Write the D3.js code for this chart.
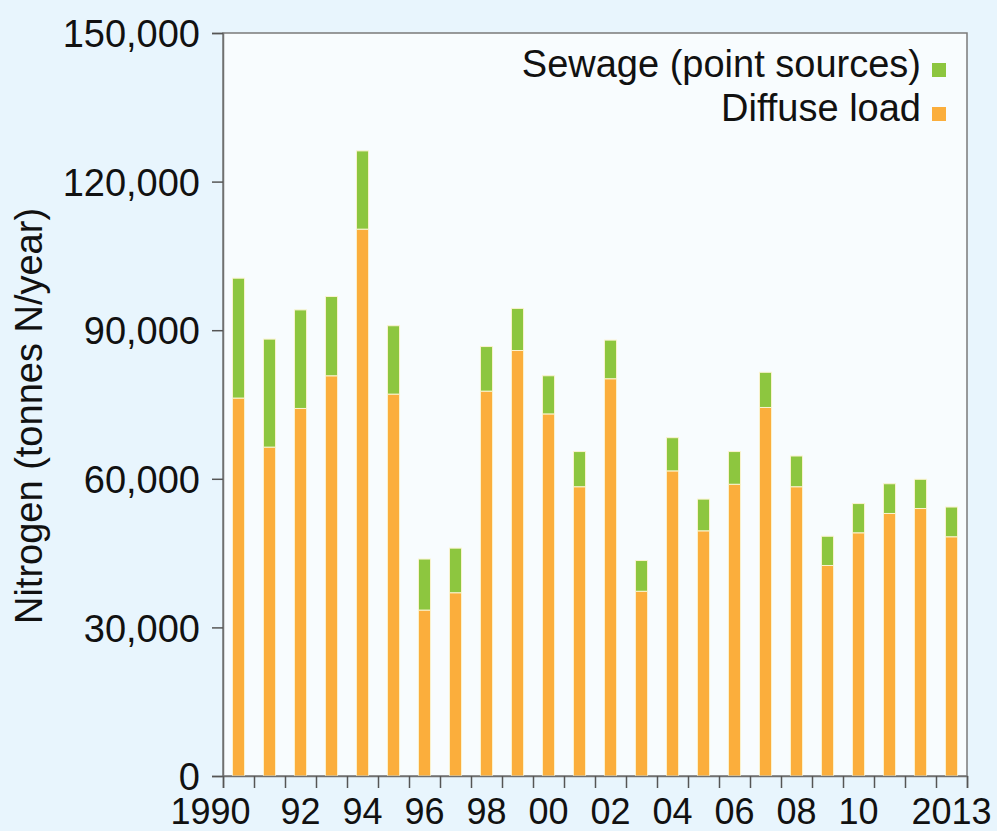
<!DOCTYPE html>
<html>
<head>
<meta charset="utf-8">
<script src="https://cdn.jsdelivr.net/npm/d3@7"></script>
<style>
  body { margin: 0; background: #e8f5fd; }
  text { font-family: "Liberation Sans", Arial, sans-serif; fill: #111; }
</style>
</head>
<body>
<script>
// data (tonnes N / year)
var years = d3.range(1990, 2014);
var diffuse = [76300, 66400, 74200, 80800, 110400, 77100, 33500, 37000, 77700, 85900,
               73100, 58400, 80200, 37300, 61600, 49500, 58900, 74400, 58400, 42500,
               49100, 53000, 54000, 48300];
var totals = [100500, 88200, 94100, 96800, 126200, 90900, 43800, 46000, 86700, 94400,
              80800, 65500, 88000, 43500, 68300, 55900, 65500, 81500, 64600, 48400,
              55000, 59000, 59900, 54300];
var sewage = totals.map((t, i) => t - diffuse[i]);
var yTicks = [0, 30000, 60000, 90000, 120000, 150000];
var xLabels = {1990: '1990', 1992: '92', 1994: '94', 1996: '96', 1998: '98', 2000: '00',
               2002: '02', 2004: '04', 2006: '06', 2008: '08', 2010: '10', 2013: '2013'};

var width = 997, height = 831;
var plotLeft = 223, plotRight = 967, plotTop = 33, plotBottom = 776;

var svg = d3.select('body').append('svg')
    .attr('width', width)
    .attr('height', height);

svg.append('rect')
    .attr('width', width).attr('height', height)
    .attr('fill', '#e8f5fd');

// plot area
svg.append('rect')
    .attr('x', plotLeft).attr('y', plotTop)
    .attr('width', plotRight - plotLeft).attr('height', plotBottom - plotTop)
    .attr('fill', '#f8fcfe')
    .attr('stroke', '#7a7a7a')
    .attr('stroke-width', 1.5);

var xBand = d3.scaleBand()
    .domain(years)
    .range([plotLeft, plotRight])
    .paddingInner(0.61)
    .paddingOuter(0.305);

var xEdge = d3.scaleLinear()
    .domain([1990, 2014])
    .range([plotLeft, plotRight]);

var yScale = d3.scaleLinear()
    .domain([0, 150000])
    .range([plotBottom, plotTop]);

var rows = years.map((yr, i) => ({ year: yr, diffuse: diffuse[i], sewage: sewage[i] }));
var stack = d3.stack().keys(['diffuse', 'sewage'])(rows);
var colors = { diffuse: '#fbae3c', sewage: '#8dc63f' };

svg.append('g')
    .selectAll('g')
    .data(stack)
    .enter()
    .append('g')
    .attr('fill', d => colors[d.key])
    .selectAll('rect')
    .data(d => d)
    .enter()
    .append('rect')
    .attr('x', d => xBand(d.data.year))
    .attr('width', xBand.bandwidth())
    .attr('y', d => yScale(d[1]))
    .attr('height', d => yScale(d[0]) - yScale(d[1]))
    .attr('stroke', '#fbf3cf')
    .attr('stroke-width', 1);

// axes
var yAxis = d3.axisLeft(yScale)
    .tickValues(yTicks)
    .tickSize(11)
    .tickPadding(12)
    .tickFormat(d3.format(','));

var gy = svg.append('g')
    .attr('transform', `translate(${ plotLeft }, 0)`)
    .call(yAxis);
gy.selectAll('text').style('font-size', '38px').attr('dy', '0.36em');

var xAxis = d3.axisBottom(xEdge)
    .tickValues(d3.range(1990, 2015))
    .tickSize(12)
    .tickFormat('');

var gx = svg.append('g')
    .attr('transform', `translate(0, ${ plotBottom })`)
    .call(xAxis);

[gx, gy].forEach(g => {
    g.select('.domain').attr('stroke', '#707070').attr('stroke-width', 1.5);
    g.selectAll('.tick line').attr('stroke', '#555').attr('stroke-width', 1.5);
});

svg.append('g')
    .selectAll('text')
    .data(Object.keys(xLabels).map(Number))
    .enter()
    .append('text')
    .attr('x', d => d === 1990 ? xBand(d) + xBand.bandwidth() / 2 + 12 : xBand(d) + xBand.bandwidth() / 2)
    .attr('y', 824)
    .attr('text-anchor', d => d === 1990 ? 'end' : 'middle')
    .style('font-size', '36px')
    .text(d => xLabels[d]);

// y title
svg.append('text')
    .attr('transform', 'translate(42, 416) rotate(-90)')
    .attr('text-anchor', 'middle')
    .style('font-size', '38px')
    .text('Nitrogen (tonnes N/year)');

// legend
var legend = [
    { label: 'Sewage (point sources)', color: colors.sewage, y: 77 },
    { label: 'Diffuse load', color: colors.diffuse, y: 121 }
];
var lg = svg.append('g').selectAll('g').data(legend).enter().append('g');
lg.append('text')
    .attr('x', 921)
    .attr('y', d => d.y)
    .attr('text-anchor', 'end')
    .style('font-size', '38px')
    .text(d => d.label);
lg.append('rect')
    .attr('x', 932)
    .attr('y', d => d.y - 14)
    .attr('width', 14)
    .attr('height', 14)
    .attr('fill', d => d.color);
</script>
</body>
</html>
